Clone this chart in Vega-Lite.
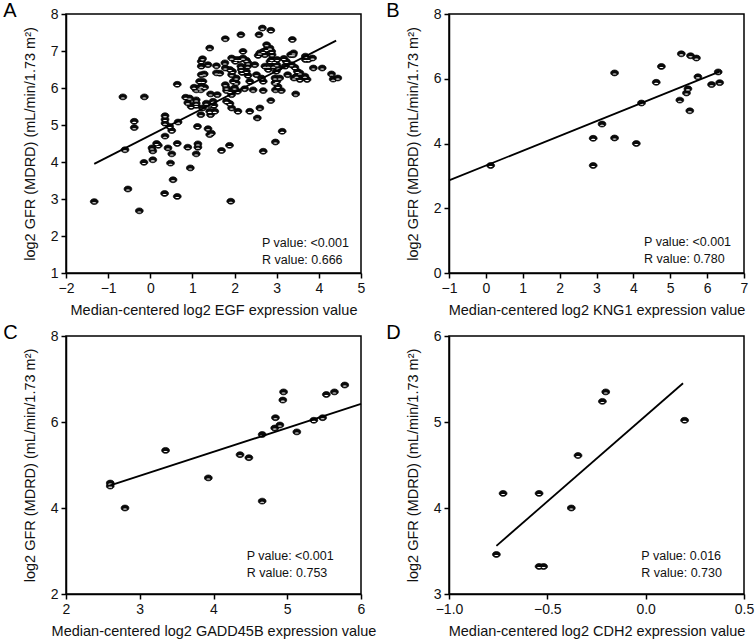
{
  "$schema": "https://vega.github.io/schema/vega-lite/v6.json",
  "background": "white",
  "padding": {"left": 2, "top": 0, "right": 5, "bottom": 2},
  "config": {
    "font": "Liberation Sans",
    "view": {"stroke": "#000", "strokeWidth": 1.5},
    "axis": {"domainColor": "#000", "domainWidth": 1.5, "tickColor": "#000", "tickWidth": 1.5, "tickSize": 5, "grid": false,
      "labelFont": "Liberation Sans", "labelFontSize": 14, "labelColor": "#111", "labelPadding": 3, "labelFlush": false, "labelOverlap": false,
      "titleFont": "Liberation Sans", "titleFontSize": 14.5, "titleFontWeight": "normal", "titleColor": "#111"},
    "axisY": {"titlePadding": 13},
    "axisX": {"titlePadding": 8},
    "title": {"anchor": "start", "frame": "bounds", "fontSize": 20, "fontWeight": "normal", "font": "Liberation Sans", "color": "#000", "dx": -19, "offset": -14}
  },
  "datasets": {
    "a": [
      {"x":-1.33,"y":2.93},{"x":-0.65,"y":5.76},{"x":-0.60,"y":4.33},{"x":-0.38,"y":5.10},{"x":-0.38,"y":4.93},{"x":-0.53,"y":3.27},{"x":-0.26,"y":2.68},{"x":-0.14,"y":5.76},{"x":-0.15,"y":3.99},{"x":0.04,"y":4.38},{"x":0.06,"y":4.30},{"x":0.06,"y":4.06},{"x":0.15,"y":4.50},{"x":0.19,"y":4.45},{"x":0.35,"y":5.25},{"x":0.35,"y":5.15},{"x":0.35,"y":5.05},{"x":0.35,"y":4.70},{"x":0.34,"y":3.15},{"x":0.42,"y":4.38},{"x":0.48,"y":3.97},{"x":0.51,"y":4.22},{"x":0.51,"y":4.85},{"x":0.46,"y":4.96},{"x":0.54,"y":3.52},{"x":0.64,"y":6.10},{"x":0.64,"y":3.07},{"x":0.64,"y":4.50},{"x":0.66,"y":5.08},{"x":0.84,"y":5.75},{"x":0.89,"y":5.60},{"x":0.89,"y":4.40},{"x":0.95,"y":3.84},{"x":1.04,"y":6.02},{"x":1.09,"y":5.68},{"x":1.09,"y":5.53},{"x":1.12,"y":4.96},{"x":1.13,"y":4.49},{"x":1.09,"y":4.22},{"x":1.13,"y":4.40},{"x":1.20,"y":5.95},{"x":1.21,"y":6.59},{"x":1.24,"y":6.79},{"x":1.20,"y":5.28},{"x":1.24,"y":5.46},{"x":1.25,"y":6.18},{"x":1.28,"y":6.38},{"x":1.29,"y":6.02},{"x":1.37,"y":6.63},{"x":1.37,"y":4.90},{"x":1.41,"y":4.74},{"x":1.45,"y":4.78},{"x":1.41,"y":7.08},{"x":1.43,"y":5.84},{"x":1.43,"y":5.28},{"x":1.53,"y":5.37},{"x":1.51,"y":5.53},{"x":1.57,"y":6.60},{"x":1.59,"y":5.82},{"x":1.65,"y":6.40},{"x":1.69,"y":4.31},{"x":1.78,"y":7.33},{"x":1.77,"y":6.68},{"x":1.78,"y":6.54},{"x":1.78,"y":6.09},{"x":1.81,"y":5.93},{"x":1.81,"y":5.64},{"x":1.89,"y":5.58},{"x":1.88,"y":4.45},{"x":1.91,"y":2.94},{"x":1.93,"y":5.46},{"x":1.95,"y":6.45},{"x":1.97,"y":6.18},{"x":2.00,"y":6.00},{"x":2.02,"y":6.72},{"x":2.04,"y":6.27},{"x":2.07,"y":5.91},{"x":2.08,"y":5.37},{"x":2.15,"y":7.44},{"x":2.12,"y":6.77},{"x":2.15,"y":6.59},{"x":2.20,"y":6.99},{"x":2.18,"y":6.42},{"x":2.24,"y":5.98},{"x":2.28,"y":6.75},{"x":2.31,"y":6.59},{"x":2.32,"y":6.34},{"x":2.36,"y":6.18},{"x":2.36,"y":5.37},{"x":2.48,"y":6.63},{"x":2.54,"y":5.19},{"x":2.56,"y":6.88},{"x":2.58,"y":7.44},{"x":2.60,"y":5.46},{"x":2.66,"y":7.62},{"x":2.68,"y":6.18},{"x":2.68,"y":5.93},{"x":2.68,"y":4.29},{"x":2.72,"y":6.90},{"x":2.72,"y":6.59},{"x":2.76,"y":7.17},{"x":2.76,"y":7.04},{"x":2.80,"y":6.50},{"x":2.86,"y":7.56},{"x":2.86,"y":5.66},{"x":2.88,"y":6.77},{"x":2.89,"y":6.90},{"x":2.92,"y":6.59},{"x":2.94,"y":6.72},{"x":2.96,"y":6.27},{"x":2.96,"y":6.14},{"x":2.97,"y":5.95},{"x":2.97,"y":4.54},{"x":2.99,"y":6.45},{"x":3.01,"y":6.77},{"x":3.03,"y":6.04},{"x":3.07,"y":6.27},{"x":3.11,"y":5.93},{"x":3.13,"y":4.83},{"x":3.17,"y":6.80},{"x":3.20,"y":6.59},{"x":3.26,"y":6.36},{"x":3.33,"y":6.90},{"x":3.37,"y":7.31},{"x":3.40,"y":6.95},{"x":3.41,"y":6.27},{"x":3.43,"y":6.56},{"x":3.45,"y":5.84},{"x":3.49,"y":6.45},{"x":3.68,"y":6.86},{"x":3.68,"y":6.77},{"x":3.72,"y":6.23},{"x":3.85,"y":6.81},{"x":4.08,"y":6.54},{"x":4.30,"y":6.38},{"x":4.34,"y":6.24},{"x":4.45,"y":6.27},
      {"x":1.21,"y":6.72},{"x":1.93,"y":6.81},{"x":2.04,"y":6.77},{"x":2.20,"y":6.81},{"x":2.32,"y":6.68},{"x":2.60,"y":6.95},{"x":2.68,"y":6.99},{"x":1.21,"y":6.36},{"x":1.57,"y":6.41},{"x":1.89,"y":6.50},{"x":1.93,"y":6.36},{"x":2.16,"y":6.50},{"x":2.28,"y":6.45},{"x":2.52,"y":6.36},{"x":2.64,"y":6.27},{"x":1.17,"y":6.18},{"x":1.21,"y":6.05},{"x":1.09,"y":5.95},{"x":1.17,"y":6.00},{"x":2.04,"y":6.14},{"x":1.81,"y":6.00},{"x":1.89,"y":5.91},{"x":1.93,"y":5.82},{"x":2.44,"y":5.95},{"x":0.93,"y":5.73},{"x":0.97,"y":5.50},{"x":1.09,"y":5.59},{"x":1.33,"y":5.59},{"x":1.41,"y":5.55},{"x":1.49,"y":5.64},{"x":1.41,"y":5.37},
      {"x":3.23,"y":6.72},{"x":3.39,"y":6.90},{"x":3.35,"y":6.63},{"x":3.75,"y":6.77},{"x":3.87,"y":6.54},{"x":3.55,"y":6.41},{"x":3.47,"y":6.32},{"x":3.55,"y":6.23},{"x":3.67,"y":6.32},{"x":3.00,"y":6.18},{"x":2.84,"y":7.08},{"x":2.88,"y":6.99},{"x":2.84,"y":6.72},{"x":3.00,"y":6.63},{"x":3.04,"y":6.54},{"x":2.80,"y":6.59}
    ],
    "aLine": [{"x":-1.33,"y":3.95},{"x":4.41,"y":7.28}],
    "aText": [{"x":2.65,"y":1.81,"t":"P value: <0.001"},{"x":2.65,"y":1.36,"t":"R value: 0.666"}],
    "b": [
      {"x":0.13,"y":3.32},{"x":2.91,"y":4.16},{"x":2.91,"y":3.32},{"x":3.15,"y":4.60},{"x":3.49,"y":6.18},{"x":3.49,"y":4.17},{"x":4.08,"y":4.00},{"x":4.22,"y":5.25},{"x":4.62,"y":5.89},{"x":4.76,"y":6.38},{"x":5.26,"y":5.34},{"x":5.30,"y":6.77},{"x":5.44,"y":5.56},{"x":5.48,"y":5.69},{"x":5.53,"y":5.01},{"x":5.55,"y":6.71},{"x":5.71,"y":6.64},{"x":5.75,"y":6.06},{"x":6.12,"y":5.82},{"x":6.30,"y":6.21},{"x":6.34,"y":5.88}
    ],
    "bLine": [{"x":-1,"y":2.86},{"x":6.32,"y":6.21}],
    "bText": [{"x":4.29,"y":0.96,"t":"P value: <0.001"},{"x":4.29,"y":0.43,"t":"R value: 0.780"}],
    "c": [
      {"x":2.60,"y":4.58},{"x":2.60,"y":4.51},{"x":2.80,"y":4.00},{"x":3.35,"y":5.34},{"x":3.93,"y":4.70},{"x":4.36,"y":5.24},{"x":4.48,"y":5.17},{"x":4.66,"y":5.71},{"x":4.66,"y":4.16},{"x":4.83,"y":5.86},{"x":4.84,"y":6.10},{"x":4.90,"y":5.93},{"x":4.94,"y":6.51},{"x":4.95,"y":6.70},{"x":5.13,"y":5.77},{"x":5.36,"y":6.04},{"x":5.48,"y":6.10},{"x":5.53,"y":6.64},{"x":5.64,"y":6.70},{"x":5.78,"y":6.86}
    ],
    "cLine": [{"x":2.59,"y":4.52},{"x":6.0,"y":6.42}],
    "cText": [{"x":4.45,"y":2.89,"t":"P value: <0.001"},{"x":4.45,"y":2.50,"t":"R value: 0.753"}],
    "d": [
      {"x":-0.759,"y":3.46},{"x":-0.725,"y":4.17},{"x":-0.542,"y":4.17},{"x":-0.542,"y":3.32},{"x":-0.519,"y":3.32},{"x":-0.378,"y":4.00},{"x":-0.344,"y":4.61},{"x":-0.220,"y":5.24},{"x":-0.203,"y":5.35},{"x":0.198,"y":5.02}
    ],
    "dLine": [{"x":-0.759,"y":3.56},{"x":0.19,"y":5.45}],
    "dText": [{"x":-0.022,"y":3.44,"t":"P value: 0.016"},{"x":-0.022,"y":3.245,"t":"R value: 0.730"}]
  },
  "columns": 2,
  "spacing": {"row": 63, "column": 88},
  "bounds": "flush",
  "concat": [
    {
      "width": 295, "height": 259,
      "title": {"text": "A"},
      "encoding": {
        "x": {"field": "x", "type": "quantitative", "scale": {"domain": [-2, 5], "nice": false, "zero": false}, "axis": {"values": [-2,-1,0,1,2,3,4,5], "title": "Median-centered log2 EGF expression value"}},
        "y": {"field": "y", "type": "quantitative", "scale": {"domain": [1, 8], "nice": false, "zero": false}, "axis": {"values": [1,2,3,4,5,6,7,8], "title": "log2 GFR (MDRD) (mL/min/1.73 m²)"}}
      },
      "layer": [
        {"data": {"name": "a"}, "mark": {"type": "point", "shape": "M-1,0A1,0.75,0,1,1,1,0A1,0.75,0,1,1,-1,0Z", "filled": true, "fill": "#0a0a0a", "stroke": "#000", "strokeWidth": 0.7, "size": 62, "opacity": 1}},
        {"data": {"name": "a"}, "mark": {"type": "point", "shape": "M-0.5,0.28A0.5,0.14,0,1,1,0.5,0.28A0.5,0.14,0,1,1,-0.5,0.28Z", "filled": true, "fill": "#fff", "strokeWidth": 0, "size": 62, "opacity": 1}},
        {"data": {"name": "aLine"}, "mark": {"type": "line", "color": "#000", "strokeWidth": 1.8}},
        {"data": {"name": "aText"}, "mark": {"type": "text", "align": "left", "baseline": "middle", "fontSize": 12.5, "color": "#111"}, "encoding": {"text": {"field": "t"}}}
      ]
    },
    {
      "width": 295, "height": 259,
      "title": {"text": "B"},
      "encoding": {
        "x": {"field": "x", "type": "quantitative", "scale": {"domain": [-1, 7], "nice": false, "zero": false}, "axis": {"values": [-1,0,1,2,3,4,5,6,7], "title": "Median-centered log2 KNG1 expression value"}},
        "y": {"field": "y", "type": "quantitative", "scale": {"domain": [0, 8], "nice": false, "zero": false}, "axis": {"values": [0,2,4,6,8], "title": "log2 GFR (MDRD) (mL/min/1.73 m²)"}}
      },
      "layer": [
        {"data": {"name": "b"}, "mark": {"type": "point", "shape": "M-1,0A1,0.75,0,1,1,1,0A1,0.75,0,1,1,-1,0Z", "filled": true, "fill": "#0a0a0a", "stroke": "#000", "strokeWidth": 0.7, "size": 62, "opacity": 1}},
        {"data": {"name": "b"}, "mark": {"type": "point", "shape": "M-0.5,0.28A0.5,0.14,0,1,1,0.5,0.28A0.5,0.14,0,1,1,-0.5,0.28Z", "filled": true, "fill": "#fff", "strokeWidth": 0, "size": 62, "opacity": 1}},
        {"data": {"name": "bLine"}, "mark": {"type": "line", "color": "#000", "strokeWidth": 1.8}},
        {"data": {"name": "bText"}, "mark": {"type": "text", "align": "left", "baseline": "middle", "fontSize": 12.5, "color": "#111"}, "encoding": {"text": {"field": "t"}}}
      ]
    },
    {
      "width": 295, "height": 258,
      "title": {"text": "C"},
      "encoding": {
        "x": {"field": "x", "type": "quantitative", "scale": {"domain": [2, 6], "nice": false, "zero": false}, "axis": {"values": [2,3,4,5,6], "title": "Median-centered log2 GADD45B expression value"}},
        "y": {"field": "y", "type": "quantitative", "scale": {"domain": [2, 8], "nice": false, "zero": false}, "axis": {"values": [2,4,6,8], "title": "log2 GFR (MDRD) (mL/min/1.73 m²)"}}
      },
      "layer": [
        {"data": {"name": "c"}, "mark": {"type": "point", "shape": "M-1,0A1,0.75,0,1,1,1,0A1,0.75,0,1,1,-1,0Z", "filled": true, "fill": "#0a0a0a", "stroke": "#000", "strokeWidth": 0.7, "size": 62, "opacity": 1}},
        {"data": {"name": "c"}, "mark": {"type": "point", "shape": "M-0.5,0.28A0.5,0.14,0,1,1,0.5,0.28A0.5,0.14,0,1,1,-0.5,0.28Z", "filled": true, "fill": "#fff", "strokeWidth": 0, "size": 62, "opacity": 1}},
        {"data": {"name": "cLine"}, "mark": {"type": "line", "color": "#000", "strokeWidth": 1.8}},
        {"data": {"name": "cText"}, "mark": {"type": "text", "align": "left", "baseline": "middle", "fontSize": 12.5, "color": "#111"}, "encoding": {"text": {"field": "t"}}}
      ]
    },
    {
      "width": 295, "height": 258,
      "title": {"text": "D"},
      "encoding": {
        "x": {"field": "x", "type": "quantitative", "scale": {"domain": [-1, 0.5], "nice": false, "zero": false}, "axis": {"values": [-1,-0.5,0,0.5], "format": ".1f", "title": "Median-centered log2 CDH2 expression value"}},
        "y": {"field": "y", "type": "quantitative", "scale": {"domain": [3, 6], "nice": false, "zero": false}, "axis": {"values": [3,4,5,6], "title": "log2 GFR (MDRD) (mL/min/1.73 m²)"}}
      },
      "layer": [
        {"data": {"name": "d"}, "mark": {"type": "point", "shape": "M-1,0A1,0.75,0,1,1,1,0A1,0.75,0,1,1,-1,0Z", "filled": true, "fill": "#0a0a0a", "stroke": "#000", "strokeWidth": 0.7, "size": 62, "opacity": 1}},
        {"data": {"name": "d"}, "mark": {"type": "point", "shape": "M-0.5,0.28A0.5,0.14,0,1,1,0.5,0.28A0.5,0.14,0,1,1,-0.5,0.28Z", "filled": true, "fill": "#fff", "strokeWidth": 0, "size": 62, "opacity": 1}},
        {"data": {"name": "dLine"}, "mark": {"type": "line", "color": "#000", "strokeWidth": 1.8}},
        {"data": {"name": "dText"}, "mark": {"type": "text", "align": "left", "baseline": "middle", "fontSize": 12.5, "color": "#111"}, "encoding": {"text": {"field": "t"}}}
      ]
    }
  ]
}
